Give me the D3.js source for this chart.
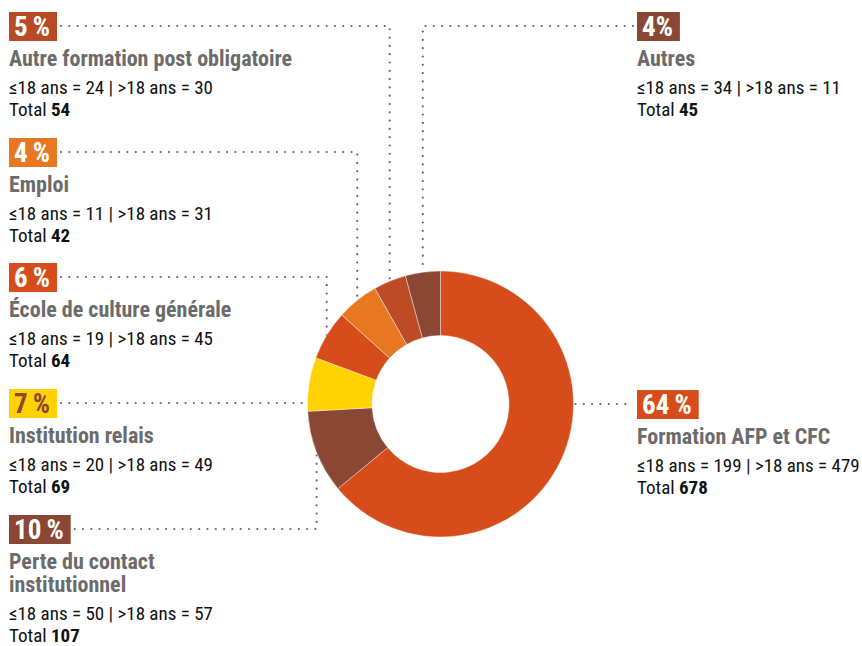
<!DOCTYPE html>
<html>
<head>
<meta charset="utf-8">
<script src="https://cdn.jsdelivr.net/npm/d3@7"></script>
<style>
  body { margin: 0; background: #fff; }
  svg text { font-family: 'Liberation Sans Narrow', 'Roboto Condensed', 'DejaVu Sans Condensed', sans-serif; font-stretch: condensed; }
</style>
</head>
<body>
<svg width="862" height="646"></svg>
<script>
// categories in the order the slices are drawn, clockwise from 12 o'clock
let categories = ["Formation AFP et CFC", "Perte du contact institutionnel", "Institution relais",
  "École de culture générale", "Autre formation post obligatoire", "Emploi", "Autres"];
let under18 = [199, 50, 20, 19, 24, 11, 34];
let over18 = [479, 57, 49, 45, 30, 31, 11];
let totals = [678, 107, 69, 64, 54, 42, 45];
let percentLabels = ["64 %", "10 %", "7 %", "6 %", "5 %", "4 %", "4%"];

let sliceColors = ["#d64d1b", "#8a4733", "#ffd200", "#d64d1b", "#e87722", "#bd4b25", "#8a4733"];
let boxColors = ["#d64d1b", "#8a4733", "#ffd200", "#d64d1b", "#b94a27", "#e87722", "#8a4733"];
let boxTextColors = ["#fff", "#fff", "#8a4733", "#fff", "#fff", "#fff", "#fff"];

// label placement
let side = ["right", "left", "left", "left", "left", "left", "right"];
let boxTop = [390, 515, 389, 263, 12, 138, 12];
let elbow = [false, true, false, true, true, true, true];
let linkSlice = [0, 1, 2, 3, 5, 4, 6]; // slice each label points at
let titleWidth = [0, 200, 0, 0, 0, 0, 0];

let svg = d3.select("svg"),
    cx = 440.5, cy = 404,
    outerR = 133, innerR = 68.5,
    boxH = 29;

let pie = d3.pie().sort(null).value(function(d) { return d; });
let slices = pie(totals);
let arc = d3.arc().innerRadius(innerR).outerRadius(outerR);
let edge = d3.arc().innerRadius(outerR).outerRadius(outerR);

let lines = svg.append("g").attr("class", "connectors");
let labels = svg.append("g").attr("class", "labels");

let donut = svg.append("g")
    .attr("transform", "translate(" + cx + "," + cy + ")");

donut.selectAll(".slice")
  .data(slices)
  .enter().append("path")
    .attr("class", "slice")
    .attr("d", arc)
    .attr("fill", function(d, i) { return sliceColors[i]; })
    .attr("stroke", "#fff")
    .attr("stroke-width", 0.4);

categories.forEach(function(name, i) {
  let x0 = side[i] == "left" ? 9 : 637,
      top = boxTop[i],
      g = labels.append("g");

  let pct = g.append("text")
      .attr("x", x0 + 5)
      .attr("y", top + 23.5)
      .attr("font-size", "27px")
      .attr("font-weight", "bold")
      .attr("fill", boxTextColors[i])
      .text(percentLabels[i].replace(" ", "\u2009"));
  let boxW = pct.node().getComputedTextLength() + 12;

  g.insert("rect", "text")
      .attr("x", x0)
      .attr("y", top)
      .attr("width", boxW)
      .attr("height", boxH)
      .attr("fill", boxColors[i]);

  // title, wrapped if needed
  let words = name.split(" "), rows = [], cur = [];
  let probe = g.append("text").attr("font-size", "22px").attr("font-weight", "bold");
  if (titleWidth[i]) {
    words.forEach(function(w) {
      probe.text(cur.concat([w]).join(" "));
      if (cur.length && probe.node().getComputedTextLength() > titleWidth[i]) {
        rows.push(cur.join(" "));
        cur = [w];
      } else cur.push(w);
    });
    rows.push(cur.join(" "));
  } else rows = [name];
  probe.remove();

  let base = top + boxH + 25, lh = 23;
  rows.forEach(function(r, k) {
    g.append("text")
        .attr("x", x0)
        .attr("y", base + k * lh)
        .attr("font-size", "22px")
        .attr("font-weight", "bold")
        .attr("fill", "#6b6b6b")
        .text(r);
  });
  let statsY = base + (rows.length - 1) * lh + 28;

  g.append("text")
      .attr("x", x0)
      .attr("y", statsY)
      .attr("font-size", "19px")
      .attr("fill", "#111")
      .text("\u2264" + "18 ans = " + under18[i] + " | >18 ans = " + over18[i]);

  let tot = g.append("text")
      .attr("x", x0)
      .attr("y", statsY + 21.5)
      .attr("font-size", "19px")
      .attr("fill", "#111");
  tot.append("tspan").text("Total ");
  tot.append("tspan").attr("font-weight", "bold").text(totals[i]);

  // dotted connector
  let y = top + boxH / 2 - 0.5, d;
  if (elbow[i]) {
    let c = edge.centroid(slices[linkSlice[i]]),
        ex = cx + c[0], ey = cy + c[1];
    if (side[i] == "left") d = "M" + (x0 + boxW + 4) + "," + y + "H" + ex + "V" + ey;
    else d = "M" + (x0 - 4) + "," + y + "H" + ex + "V" + ey;
  } else {
    let dx = Math.sqrt(outerR * outerR - (y - cy) * (y - cy));
    if (side[i] == "left") d = "M" + (x0 + boxW + 4) + "," + y + "H" + (cx - dx - 2);
    else d = "M" + (cx + dx + 2) + "," + y + "H" + (x0 - 4);
  }
  lines.append("path")
      .attr("d", d)
      .attr("fill", "none")
      .attr("stroke", "#666")
      .attr("stroke-width", 2.2)
      .attr("stroke-linecap", "round")
      .attr("stroke-dasharray", "0 8.3");
});
</script>
</body>
</html>
